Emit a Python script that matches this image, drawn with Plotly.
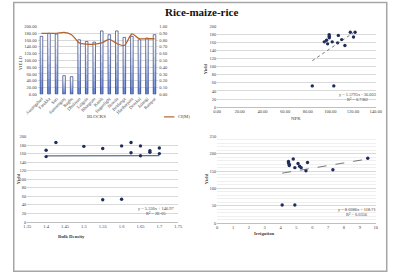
import plotly.graph_objects as go

# ---------------- data ----------------
blocks = ["Aurangabad", "Farakka", "Suti", "Samserganj", "Raghu", "Dhuliyan", "Lalgola",
          "Khargram", "Kandi", "Sagardighi", "Nowda", "Beldanga", "Hariharpara",
          "Domkal", "Jalangi", "Rampur"]
block_yield = [171, 180, 178, 55, 52, 161, 156, 154, 187, 176, 187, 168, 171, 161, 166, 176]
block_ci = [0.90, 0.90, 0.90, 0.915, 0.88, 0.76, 0.74, 0.74, 0.76, 0.81, 0.75, 0.72, 0.89, 0.82, 0.82, 0.82]

npk_x = [84, 103, 94.6, 96.6, 97.5, 98.9, 99, 99, 101.6, 106.4, 107, 110, 112.8, 117.6, 120.4, 121.8]
npk_y = [52.6, 52.6, 162, 166, 157, 180, 176, 172, 162, 159.5, 178, 167.6, 153, 186, 174, 186]
npk_trend_x = [84, 120]
npk_trend_y = [115, 184]

bd_x = [1.40, 1.40, 1.426, 1.50, 1.55, 1.55, 1.60, 1.60, 1.625, 1.625, 1.65, 1.65, 1.675, 1.675, 1.70, 1.70]
bd_y = [168, 153, 186, 177, 172, 52, 178, 53, 186, 162, 178, 155, 167, 163, 173, 160]
bd_trend_x = [1.40, 1.70]
bd_trend_y = [154.5, 155.5]

irr_x = [4.1, 4.9, 4.5, 4.5, 4.55, 4.55, 4.8, 4.9, 5.1, 5.2, 5.3, 5.6, 5.7, 7.3, 9.5]
irr_y = [52, 52, 178, 174, 170, 166, 185, 160, 172, 164, 160, 151, 175, 154, 187]
irr_trend_x = [4.1, 9.5]
irr_trend_y = [144, 185]

# ---------------- styling helpers ----------------
W, H = 396, 276
SERIF = "Liberation Serif, Times New Roman, serif"
TICK = dict(family=SERIF, size=4.5, color="#404040")
GRID = "#d9d9d9"
MARK = "#1f2d5c"
CI_COLOR = "#b5652f"


def px_x(p):
    return p / W


def px_y(p):
    return 1 - p / H


fig = go.Figure()

# ---------- chart 1: gradient bars + CI line ----------
N = 8
c_top = (255, 255, 255)
c_bot = (110, 140, 222)
BW = 0.34
for k in range(N):
    t = (k / (N - 1)) ** 1.3
    col = tuple(int(round(c_top[i] + (c_bot[i] - c_top[i]) * t)) for i in range(3))
    frac = 1 - k / N
    fig.add_trace(go.Bar(
        x=blocks, y=[v * frac for v in block_yield], width=BW,
        marker=dict(color="rgb(%d,%d,%d)" % col, line=dict(width=0)),
        xaxis="x", yaxis="y", showlegend=False, hoverinfo="skip"))
fig.add_trace(go.Bar(
    x=blocks, y=block_yield, width=BW,
    marker=dict(color="rgba(0,0,0,0)", line=dict(width=0.7, color="#2c3d7a")),
    xaxis="x", yaxis="y", showlegend=False, name="YIELD"))
fig.add_trace(go.Scatter(
    x=blocks, y=block_ci, mode="lines", name="CI(M)",
    line=dict(color=CI_COLOR, width=1.3, shape="spline", smoothing=0.8),
    xaxis="x", yaxis="y2", showlegend=False))

# ---------- chart 2: NPK ----------
fig.add_trace(go.Scatter(x=npk_x, y=npk_y, mode="markers",
                         marker=dict(color=MARK, size=3.4), xaxis="x3", yaxis="y3", showlegend=False))
fig.add_trace(go.Scatter(x=npk_trend_x, y=npk_trend_y, mode="lines",
                         line=dict(color="#555555", width=0.8, dash="dot"),
                         xaxis="x3", yaxis="y3", showlegend=False))

# ---------- chart 3: Bulk Density ----------
fig.add_trace(go.Scatter(x=bd_trend_x, y=bd_trend_y, mode="lines",
                         line=dict(color="#5b6f8f", width=1.3),
                         xaxis="x4", yaxis="y4", showlegend=False))
fig.add_trace(go.Scatter(x=bd_x, y=bd_y, mode="markers",
                         marker=dict(color=MARK, size=3.4), xaxis="x4", yaxis="y4", showlegend=False))

# ---------- chart 4: Irrigation ----------
fig.add_trace(go.Scatter(x=irr_x, y=irr_y, mode="markers",
                         marker=dict(color=MARK, size=3.4), xaxis="x5", yaxis="y5", showlegend=False))
fig.add_trace(go.Scatter(x=irr_trend_x, y=irr_trend_y, mode="lines",
                         line=dict(color="#555555", width=0.8, dash="dash"),
                         xaxis="x5", yaxis="y5", showlegend=False))

common_y = dict(showgrid=True, gridcolor=GRID, gridwidth=0.6, zeroline=False,
                tickfont=TICK, ticks="", showline=False, ticklen=0)
common_x = dict(showgrid=False, zeroline=False, tickfont=TICK, ticks="", ticklen=0)

fig.update_layout(
    width=W, height=H, margin=dict(l=0, r=0, t=0, b=0),
    paper_bgcolor="white", plot_bgcolor="white",
    barmode="overlay",
    font=dict(family=SERIF, size=5, color="#404040"),
    showlegend=False,
    # chart 1
    xaxis=dict(domain=[px_x(26), px_x(153)], anchor="y", tickangle=-45,
               showline=False, **common_x),
    yaxis=dict(domain=[px_y(94), px_y(25)], range=[0, 200], dtick=20, tickformat=".2f",
               anchor="x", **common_y),
    yaxis2=dict(overlaying="y", side="right", range=[0, 1], dtick=0.1, tickformat=".2f",
                anchor="x", showgrid=False, zeroline=False, tickfont=TICK, ticks="", showline=False),
    # chart 2
    xaxis3=dict(domain=[px_x(215), px_x(382)], anchor="y3", range=[0, 140], dtick=20,
                tickformat=".2f", showline=True, linecolor="#bfbfbf", linewidth=0.6, **common_x),
    yaxis3=dict(domain=[px_y(107), px_y(25)], anchor="x3", range=[0, 200], dtick=20, **common_y),
    # chart 3
    xaxis4=dict(domain=[px_x(15), px_x(174)], anchor="y4", range=[1.35, 1.75], dtick=0.05,
                showline=True, linecolor="#bfbfbf", linewidth=0.6, **common_x),
    yaxis4=dict(domain=[px_y(224), px_y(137)], anchor="x4", range=[0, 200], dtick=20, **common_y),
    # chart 4
    xaxis5=dict(domain=[px_x(215), px_x(382)], anchor="y5", range=[0, 10], dtick=1,
                showline=True, linecolor="#bfbfbf", linewidth=0.6, **common_x),
    yaxis5=dict(domain=[px_y(225), px_y(137)], anchor="x5", range=[0, 250], dtick=50,
                minor=dict(dtick=10, showgrid=True, gridcolor="#efefef", gridwidth=0.4),
                **common_y),
)

ann = []


def label(x, y, text, size=4.8, angle=0, xanchor="center", color="#404040"):
    ann.append(dict(x=px_x(x), y=px_y(y), xref="paper", yref="paper", text=text,
                    showarrow=False, textangle=angle, xanchor=xanchor, yanchor="middle",
                    font=dict(family=SERIF, size=size, color=color)))


label(198, 10, "<b>Rice-maize-rice</b>", size=11, color="#111111")
label(8, 62, "YIELD", angle=-90)
label(88, 117, "BLOCKS")
label(203, 68, "<b>Yield</b>", angle=-90)
label(298, 119, "NPK")
label(6, 180, "<b>Yield</b>", angle=-90)
label(62, 239, "<b>Bulk Density</b>")
label(204, 180, "<b>Yield</b>", angle=-90)
label(265, 236, "<b>Irrigation</b>")
# legend text for the CI line
label(172, 117, "CI(M)", size=4.6, xanchor="left")
# trendline equations
label(363, 94, "y = 1.5795x - 36.603", size=4.4)
label(363, 99, "R² = 0.7382", size=4.4)
label(151, 210, "y = 5.536x + 146.97", size=4.4)
label(151, 215, "R² = 2E-05", size=4.4)
label(362, 211, "y = 8.0386x + 118.71", size=4.4)
label(362, 216, "R² = 0.0356", size=4.4)
fig.update_layout(annotations=ann)

# legend key line for CI(M)
fig.add_shape(type="line", xref="paper", yref="paper", x0=px_x(159), x1=px_x(170),
              y0=px_y(117), y1=px_y(117), line=dict(color=CI_COLOR, width=1.2))
# outer frame
fig.add_shape(type="rect", xref="paper", yref="paper", x0=0.002, y0=0.006, x1=0.994, y1=0.998,
              line=dict(color="#a6a6a6", width=1.5))

fig.write_html("out.html")
